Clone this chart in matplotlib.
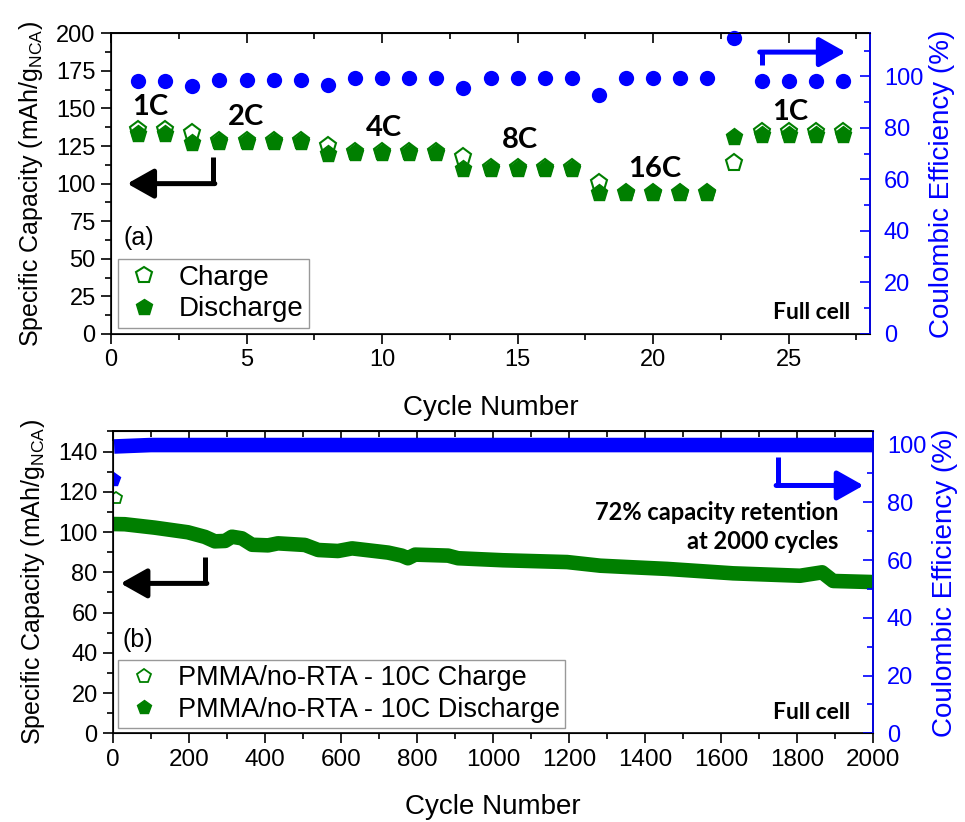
import matplotlib
matplotlib.use('Agg')
import matplotlib.pyplot as plt
from matplotlib.lines import Line2D
from matplotlib.ticker import MultipleLocator

# ---------------- Panel (a) data: rate capability ----------------
cycles_a = list(range(1, 28))
charge_a = [135.5, 135.5, 133.5, 128.5, 128.5, 128.5, 128.5, 125.0, 121.0, 121.0,
            121.0, 121.0, 117.5, 110.5, 110.5, 110.5, 110.5, 100.6, 94.0, 94.0,
            94.0, 94.0, 113.5, 134.5, 134.5, 134.5, 134.5]
discharge_a = [133.0, 133.0, 127.0, 128.0, 128.0, 128.0, 128.0, 120.0, 120.5, 120.5,
               120.5, 120.5, 110.0, 110.0, 110.0, 110.0, 110.0, 93.5, 93.5, 93.5,
               93.5, 93.5, 130.8, 132.4, 132.4, 132.4, 132.4]
ce_a = [98.3, 98.3, 96.2, 98.6, 98.6, 98.6, 98.6, 96.5, 99.2, 99.2,
        99.2, 99.2, 95.5, 99.2, 99.2, 99.2, 99.2, 92.7, 99.2, 99.2,
        99.2, 99.2, 114.7, 98.2, 98.2, 98.2, 98.2]
rate_labels = ['1C', '2C', '4C', '8C', '16C', '1C']

# ---------------- Panel (b) data: long-term cycling at 10C ----------------
cycles_b = [1, 31, 110, 197, 242, 268, 295, 313, 339, 366, 408, 434, 505, 540,
            592, 629, 724, 760, 776, 795, 882, 908, 1026, 1195, 1282, 1368, 1458,
            1632, 1808, 1866, 1895, 1992, 2000]
discharge_b = [104.0, 103.9, 102.2, 99.9, 97.6, 95.4, 95.6, 97.7, 96.9, 93.7, 93.4,
               94.4, 93.6, 91.1, 90.6, 91.9, 89.8, 88.3, 87.0, 88.8, 88.3, 87.0,
               86.0, 85.1, 83.3, 82.5, 81.7, 79.5, 78.3, 80.0, 75.7, 75.2, 75.1]
charge_b_cycles = [8]
charge_b = [117.0]
ce_b_cycles = [3, 100, 500, 1000, 1500, 2000]
ce_b = [99.3, 99.8, 99.8, 99.8, 99.8, 99.8]
ce_b_first_cycle = [1]
ce_b_first = [88.0]

GREEN = '#007F00'
BLUE = '#0000FF'
SANS = ['Liberation Sans', 'DejaVu Sans']
BOLD = ['Lato', 'DejaVu Sans']

plt.rcParams['font.family'] = SANS
plt.rcParams['mathtext.fontset'] = 'custom'
plt.rcParams['mathtext.rm'] = 'Liberation Sans'
plt.rcParams['mathtext.it'] = 'Liberation Sans'

fig = plt.figure(figsize=(9.65, 8.22), dpi=100)
ax1 = fig.add_axes([0.115, 0.5937, 0.7866, 0.3658])
ax2 = fig.add_axes([0.1171, 0.1079, 0.7876, 0.3672])

TICK_FS = 17
XLABEL_FS = 20
YLABEL_FS = 18
RLABEL_FS = 20
ARROW = '-|>,head_length=0.8,head_width=0.45'


def style_axes(ax, axr, xmaj, xmin, ymaj, ymin, rmaj, rmin):
    for sp in ax.spines.values():
        sp.set_linewidth(1.2)
    ax.xaxis.set_major_locator(MultipleLocator(xmaj))
    ax.xaxis.set_minor_locator(MultipleLocator(xmin))
    ax.yaxis.set_major_locator(MultipleLocator(ymaj))
    ax.yaxis.set_minor_locator(MultipleLocator(ymin))
    ax.tick_params(axis='x', which='both', direction='out', top=False)
    ax.tick_params(axis='y', which='both', direction='out', right=False)
    ax.tick_params(which='major', length=7, width=1.2, labelsize=TICK_FS, pad=4)
    ax.tick_params(which='minor', length=4, width=1.2)
    # top ticks pointing inward
    sec = ax.secondary_xaxis('top')
    sec.xaxis.set_major_locator(MultipleLocator(xmaj))
    sec.xaxis.set_minor_locator(MultipleLocator(xmin))
    sec.tick_params(which='both', direction='in', labeltop=False)
    sec.tick_params(which='major', length=7, width=1.2)
    sec.tick_params(which='minor', length=4, width=1.2)
    sec.spines['top'].set_linewidth(1.2)
    # right axis
    axr.spines['right'].set_color(BLUE)
    axr.spines['right'].set_linewidth(1.2)
    axr.yaxis.set_major_locator(MultipleLocator(rmaj))
    axr.yaxis.set_minor_locator(MultipleLocator(rmin))
    axr.tick_params(axis='y', which='both', direction='in', colors=BLUE,
                    labelsize=TICK_FS, pad=10)
    axr.tick_params(axis='y', which='major', length=7, width=1.2)
    axr.tick_params(axis='y', which='minor', length=4, width=1.2)


# ================= Panel (a) =================
ax1r = ax1.twinx()
ax1.plot(cycles_a, charge_a, linestyle='none', marker='p', markersize=12.5,
         markerfacecolor='white', markeredgecolor=GREEN, markeredgewidth=1.5,
         zorder=3)
ax1.plot(cycles_a, discharge_a, linestyle='none', marker='p', markersize=12.5,
         markerfacecolor=GREEN, markeredgecolor=GREEN, markeredgewidth=1.0,
         zorder=4)
ax1r.plot(cycles_a, ce_a, linestyle='none', marker='o', markersize=11,
          color=BLUE, markeredgewidth=0, clip_on=False)

ax1.set_xlim(0, 28)
ax1.set_ylim(0, 200)
ax1r.set_ylim(0, 116.7)
style_axes(ax1, ax1r, 5, 2.5, 25, 12.5, 20, 10)
ax1.set_xlabel('Cycle Number', fontsize=XLABEL_FS, labelpad=17)
ax1.set_ylabel('Specific Capacity (mAh/g$_{\\mathregular{NCA}}$)', fontsize=YLABEL_FS, labelpad=8)
ax1r.set_ylabel('Coulombic Efficiency (%)', fontsize=RLABEL_FS, color=BLUE,
                rotation=90, labelpad=4)

label_xy = [(1.46, 151), (4.97, 144.3), (10.07, 137), (15.07, 129.2), (20.07, 109.7), (25.05, 147.7)]
for lab, (x, y) in zip(rate_labels, label_xy):
    ax1.text(x, y, lab, fontsize=21, fontweight='bold', family=BOLD,
             ha='center', va='center', zorder=6)

ax1.text(0.974, 0.07, 'Full cell', transform=ax1.transAxes, fontsize=16.5,
         fontweight='bold', family=BOLD, ha='right', va='center')
ax1.text(0.016, 0.32, '(a)', transform=ax1.transAxes, fontsize=18,
         ha='left', va='center')

# arrows panel (a)
ax1.plot([3.76, 3.76], [118, 100], color='black', lw=3.6, solid_capstyle='butt', zorder=5)
ax1.annotate('', xy=(0.6, 100), xytext=(3.76 + 0.07, 100),
             arrowprops=dict(arrowstyle=ARROW, lw=3.6, color='black',
                             shrinkA=0, shrinkB=0, mutation_scale=20), zorder=5)
ax1r.plot([24.0, 24.0], [104.4, 109.4], color=BLUE, lw=3.6, solid_capstyle='butt')
ax1r.annotate('', xy=(27.1, 109.4), xytext=(24.0 - 0.07, 109.4),
              arrowprops=dict(arrowstyle=ARROW, lw=3.6, color=BLUE,
                              shrinkA=0, shrinkB=0, mutation_scale=20))

leg_handles_a = [
    Line2D([], [], linestyle='none', marker='p', markersize=12, markerfacecolor='white',
           markeredgecolor=GREEN, markeredgewidth=1.5),
    Line2D([], [], linestyle='none', marker='p', markersize=12, markerfacecolor=GREEN,
           markeredgecolor=GREEN)]
leg1 = ax1r.legend(leg_handles_a, ['Charge', 'Discharge'], loc='lower left',
                   bbox_to_anchor=(0.009, 0.02), borderaxespad=0, fontsize=20,
                   frameon=True, fancybox=False, edgecolor='#808080',
                   handletextpad=0.5, borderpad=0.2, labelspacing=0.2,
                   handlelength=1.5)
leg1.get_frame().set_linewidth(1.0)

# ================= Panel (b) =================
ax2r = ax2.twinx()
ax2.plot(cycles_b, discharge_b, color=GREEN, lw=10.5, solid_capstyle='butt',
         solid_joinstyle='round', zorder=3)
ax2.plot(charge_b_cycles, charge_b, linestyle='none', marker='p', markersize=9,
         markerfacecolor='white', markeredgecolor=GREEN, markeredgewidth=1.3, zorder=3)
ax2r.plot(ce_b_cycles, ce_b, color=BLUE, lw=10.5, solid_capstyle='butt')
ax2r.plot(ce_b_first_cycle, ce_b_first, linestyle='none', marker='p', markersize=10,
          color=BLUE)

ax2.set_xlim(0, 2000)
ax2.set_ylim(0, 150)
ax2r.set_ylim(0, 104.5)
style_axes(ax2, ax2r, 200, 100, 20, 10, 20, 10)
ax2.tick_params(axis='x', labelsize=17.5)
ax2.set_xlabel('Cycle Number', fontsize=XLABEL_FS, labelpad=17)
ax2.set_ylabel('Specific Capacity (mAh/g$_{\\mathregular{NCA}}$)', fontsize=YLABEL_FS, labelpad=8)
ax2r.set_ylabel('Coulombic Efficiency (%)', fontsize=RLABEL_FS, color=BLUE,
                rotation=90, labelpad=4)

ax2.text(0.954, 0.683, '72% capacity retention\nat 2000 cycles', transform=ax2.transAxes,
         fontsize=17, fontweight='bold', family=BOLD, ha='right', va='center',
         multialignment='right', linespacing=1.35)
ax2.text(0.97, 0.07, 'Full cell', transform=ax2.transAxes, fontsize=16.5,
         fontweight='bold', family=BOLD, ha='right', va='center')
ax2.text(0.013, 0.31, '(b)', transform=ax2.transAxes, fontsize=18,
         ha='left', va='center')

ax2.plot([242, 242], [87.8, 74.5], color='black', lw=3.6, solid_capstyle='butt', zorder=5)
ax2.annotate('', xy=(20, 74.5), xytext=(242 + 5, 74.5),
             arrowprops=dict(arrowstyle=ARROW, lw=3.6, color='black',
                             shrinkA=0, shrinkB=0, mutation_scale=20), zorder=5)
ax2r.plot([1750, 1750], [95.5, 85.8], color=BLUE, lw=3.6, solid_capstyle='butt')
ax2r.annotate('', xy=(1975, 85.8), xytext=(1750 - 5, 85.8),
              arrowprops=dict(arrowstyle=ARROW, lw=3.6, color=BLUE,
                              shrinkA=0, shrinkB=0, mutation_scale=20))

leg_handles_b = [
    Line2D([], [], linestyle='none', marker='p', markersize=10, markerfacecolor='white',
           markeredgecolor=GREEN, markeredgewidth=1.3),
    Line2D([], [], linestyle='none', marker='p', markersize=10, markerfacecolor=GREEN,
           markeredgecolor=GREEN)]
leg2 = ax2r.legend(leg_handles_b, ['PMMA/no-RTA - 10C Charge', 'PMMA/no-RTA - 10C Discharge'],
                   loc='lower left', bbox_to_anchor=(0.0066, 0.0176), borderaxespad=0,
                   fontsize=19.5, frameon=True, fancybox=False, edgecolor='#808080',
                   handletextpad=0.5, borderpad=0.2, labelspacing=0.2,
                   handlelength=1.5)
leg2.get_frame().set_linewidth(1.0)

fig.savefig('out.png', dpi=100)
